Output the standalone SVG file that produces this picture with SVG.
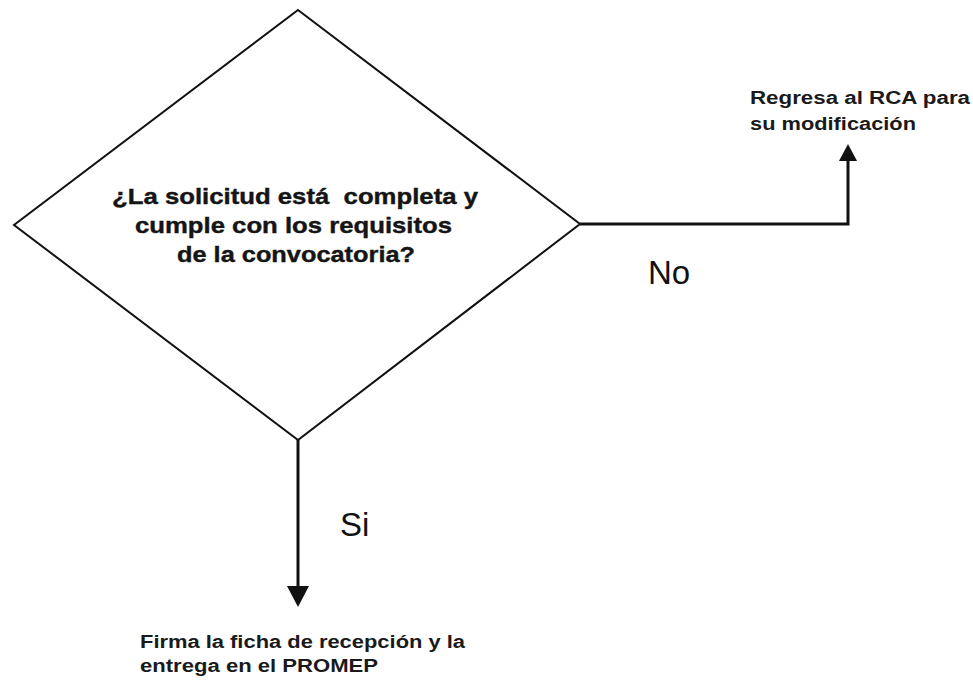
<svg xmlns="http://www.w3.org/2000/svg" width="973" height="680" viewBox="0 0 973 680">
<style>
.shape{fill:#fff;stroke:#111;stroke-width:2}
.conn{fill:none;stroke:#111;stroke-width:3}
.head{fill:#111;stroke:none}
.q{font-family:"Liberation Sans",Arial,sans-serif;font-weight:bold;font-size:22px;fill:#151515;stroke:#151515;stroke-width:0.4}
.t{font-family:"Liberation Sans",Arial,sans-serif;font-weight:bold;font-size:18px;fill:#1a1a1a}
.lbl{font-family:"Liberation Sans",Arial,sans-serif;font-size:33px;fill:#111}
</style>
<rect width="973" height="680" fill="#fff"/>
<g id="decision">
<polygon class="shape" points="298,10 580,224 298,440 14,225"/>
<text class="q" xml:space="preserve" x="112" y="204" textLength="366" lengthAdjust="spacingAndGlyphs">¿La solicitud está  completa y</text>
<text class="q" x="135" y="233" textLength="317" lengthAdjust="spacingAndGlyphs">cumple con los requisitos</text>
<text class="q" x="177" y="262" textLength="238" lengthAdjust="spacingAndGlyphs">de la convocatoria?</text>
</g>
<g id="no-target">
<text class="t" x="750" y="104" textLength="220" lengthAdjust="spacingAndGlyphs">Regresa al RCA para</text>
<text class="t" x="750" y="130" textLength="166" lengthAdjust="spacingAndGlyphs">su modificación</text>
</g>
<g id="si-target">
<text class="t" x="140" y="648" textLength="325" lengthAdjust="spacingAndGlyphs">Firma la ficha de recepción y la</text>
<text class="t" x="140" y="672" textLength="238" lengthAdjust="spacingAndGlyphs">entrega en el PROMEP</text>
</g>
<g id="connectors">
<polyline class="conn" points="580,224 848,224 848,158"/>
<polygon class="head" points="839,161 857,161 848,144"/>
<text class="lbl" x="648" y="284">No</text>
<line class="conn" x1="298" y1="440" x2="298" y2="590"/>
<polygon class="head" points="287,586 309,586 298,607"/>
<text class="lbl" x="340" y="536">Si</text>
</g>
</svg>
